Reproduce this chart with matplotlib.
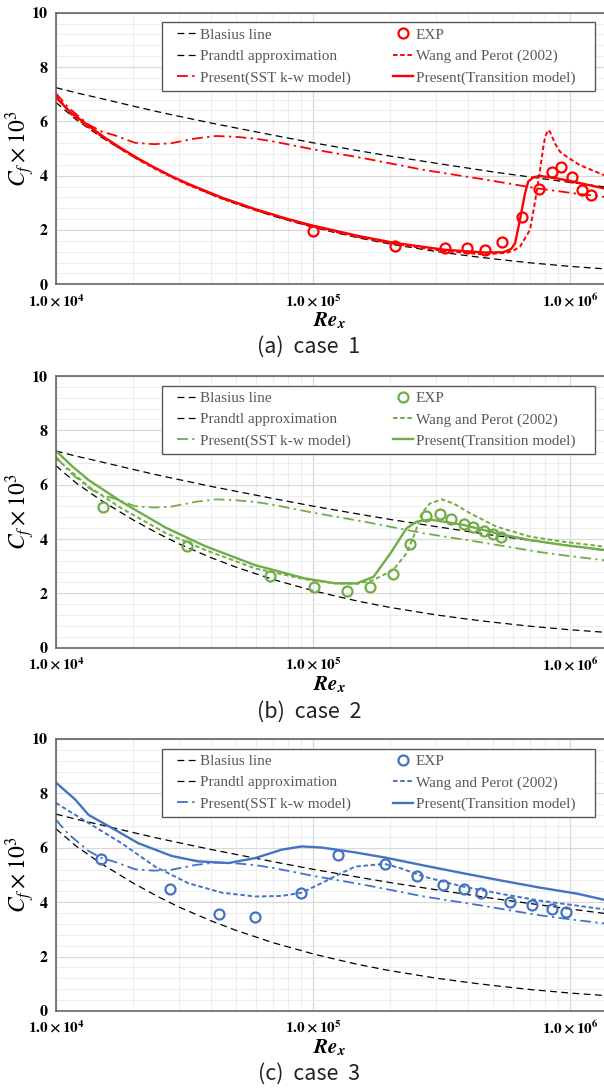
import matplotlib
matplotlib.use("Agg")
import matplotlib.pyplot as plt
from matplotlib.patches import Rectangle
from matplotlib.ticker import LogLocator, MultipleLocator, FixedLocator, NullFormatter

plt.rcParams['mathtext.fontset'] = 'stix'

# ---------------- data ----------------
theory_re = [1.0e4, 1.2e4, 1.5e4, 2.0e4, 2.5e4, 3.0e4, 4.0e4, 5.0e4, 7.0e4, 1.0e5, 1.2e5,
             1.5e5, 2.0e5, 3.0e5, 4.0e5, 5.0e5, 7.0e5, 1.0e6, 1.355e6]
blasius_cf = [6.70, 6.06, 5.42, 4.70, 4.20, 3.83, 3.32, 2.97, 2.51, 2.10, 1.92,
              1.71, 1.48, 1.21, 1.05, 0.94, 0.79, 0.66, 0.57]
prandtl_cf = [7.24, 7.05, 6.84, 6.56, 6.35, 6.19, 5.94, 5.76, 5.49, 5.21, 5.08,
              4.92, 4.72, 4.46, 4.28, 4.14, 3.95, 3.75, 3.59]

sst_re = [1.0e4, 1.12e4, 1.34e4, 1.51e4, 1.7e4, 2.03e4, 2.4e4, 2.8e4, 3.5e4, 4.2e4,
          5.0e4, 6.0e4, 7.0e4, 1.0e5, 1.6e5, 2.7e5, 4.5e5, 7.6e5, 1.0e6, 1.355e6]
sst_cf = [7.03, 6.50, 5.88, 5.62, 5.48, 5.21, 5.16, 5.19, 5.37, 5.46,
          5.43, 5.36, 5.26, 4.97, 4.63, 4.21, 3.88, 3.52, 3.37, 3.22]

# case 1
exp1_re = [1.0e5, 2.09e5, 3.26e5, 3.96e5, 4.66e5, 5.45e5, 6.49e5, 7.59e5, 8.53e5,
           9.25e5, 1.02e6, 1.11e6, 1.21e6]
exp1_cf = [1.96, 1.41, 1.35, 1.32, 1.26, 1.56, 2.49, 3.50, 4.14, 4.33, 3.96, 3.47, 3.30]
wang1_re = [1.0e4, 1.15e4, 1.34e4, 1.55e4, 1.8e4, 2.1e4, 2.43e4, 2.8e4, 3.27e4, 4.4e4,
            5.95e4, 8.0e4, 1.0e5, 1.5e5, 2.09e5, 3.26e5, 4.6e5, 5.66e5, 6.01e5, 6.38e5,
            6.98e5, 7.29e5, 7.64e5, 7.87e5, 8.0e5, 8.22e5, 8.34e5, 8.51e5, 8.73e5,
            9.14e5, 9.7e5, 1.09e6, 1.355e6]
wang1_cf = [6.95, 6.25, 5.78, 5.36, 4.96, 4.58, 4.25, 3.96, 3.66, 3.16,
            2.74, 2.37, 2.12, 1.74, 1.48, 1.22, 1.10, 1.16, 1.24, 1.38,
            2.00, 2.98, 4.21, 5.06, 5.44, 5.68, 5.62, 5.44, 5.19,
            4.88, 4.70, 4.39, 4.02]
trans1_re = [1.0e4, 1.15e4, 1.34e4, 1.55e4, 1.8e4, 2.1e4, 2.43e4, 2.8e4, 3.27e4, 4.4e4,
             5.95e4, 8.0e4, 1.0e5, 1.5e5, 2.09e5, 3.26e5, 4.66e5, 5.5e5, 5.9e5, 6.11e5,
             6.38e5, 6.68e5, 6.87e5, 7.19e5, 7.64e5, 8.87e5, 1.03e6, 1.355e6]
trans1_cf = [6.88, 6.30, 5.84, 5.40, 5.00, 4.62, 4.29, 3.99, 3.70, 3.20,
             2.77, 2.40, 2.16, 1.78, 1.52, 1.27, 1.17, 1.18, 1.30, 1.51,
             2.37, 3.35, 3.78, 3.94, 3.99, 3.90, 3.78, 3.53]

# case 2
exp2_re = [1.52e4, 3.24e4, 6.81e4, 1.01e5, 1.36e5, 1.67e5, 2.05e5, 2.38e5, 2.74e5,
           3.12e5, 3.45e5, 3.85e5, 4.18e5, 4.62e5, 5.0e5, 5.37e5]
exp2_cf = [5.19, 3.74, 2.64, 2.25, 2.10, 2.22, 2.70, 3.82, 4.86,
           4.91, 4.74, 4.56, 4.44, 4.31, 4.20, 4.06]
wang2_re = [1.0e4, 1.34e4, 1.8e4, 2.66e4, 3.8e4, 5.95e4, 9.3e4, 1.22e5, 1.48e5, 1.72e5,
            2.05e5, 2.31e5, 2.49e5, 2.65e5, 2.85e5, 3.17e5, 3.52e5, 4.08e5, 5.18e5,
            6.98e5, 9.42e5, 1.355e6]
wang2_cf = [6.97, 5.93, 5.13, 4.23, 3.60, 2.92, 2.52, 2.37, 2.35, 2.49,
            2.86, 3.47, 4.21, 4.95, 5.31, 5.46, 5.31, 4.95, 4.45,
            4.09, 3.90, 3.72]
trans2_re = [1.0e4, 1.15e4, 1.34e4, 1.8e4, 2.66e4, 3.8e4, 5.95e4, 9.3e4, 1.22e5, 1.48e5,
             1.72e5, 2.0e5, 2.31e5, 2.53e5, 2.85e5, 3.85e5, 5.18e5, 6.98e5, 9.42e5, 1.355e6]
trans2_cf = [7.25, 6.70, 6.17, 5.37, 4.43, 3.74, 3.04, 2.55, 2.37, 2.37,
             2.61, 3.47, 4.39, 4.64, 4.72, 4.52, 4.21, 3.96, 3.78, 3.60]

# case 3
exp3_re = [1.5e4, 2.77e4, 4.3e4, 5.93e4, 8.98e4, 1.25e5, 1.9e5, 2.53e5, 3.21e5,
           3.85e5, 4.52e5, 5.86e5, 7.13e5, 8.47e5, 9.66e5]
exp3_cf = [5.60, 4.50, 3.56, 3.45, 4.32, 5.75, 5.41, 4.98, 4.63,
           4.47, 4.33, 4.00, 3.90, 3.75, 3.63]
wang3_re = [1.0e4, 1.34e4, 1.8e4, 2.43e4, 3.27e4, 4.42e4, 5.95e4, 7.55e4, 9.03e4,
            1.08e5, 1.25e5, 1.46e5, 1.9e5, 2.19e5, 2.7e5, 3.81e5, 5.37e5, 7.59e5, 1.355e6]
wang3_cf = [7.65, 6.91, 6.17, 5.31, 4.70, 4.35, 4.21, 4.23, 4.35,
            4.70, 5.01, 5.31, 5.41, 5.25, 4.94, 4.58, 4.31, 4.06, 3.74]
trans3_re = [1.0e4, 1.19e4, 1.34e4, 1.7e4, 2.09e4, 2.82e4, 3.58e4, 4.69e4, 5.95e4, 7.55e4,
             9.03e4, 1.08e5, 1.46e5, 1.91e5, 2.7e5, 3.81e5, 5.37e5, 7.59e5, 1.07e6, 1.355e6]
trans3_cf = [8.40, 7.77, 7.21, 6.66, 6.17, 5.70, 5.50, 5.44, 5.62, 5.93,
             6.05, 6.01, 5.83, 5.64, 5.35, 5.07, 4.80, 4.54, 4.31, 4.09]

cases = [
    dict(exp=(exp1_re, exp1_cf), wang=(wang1_re, wang1_cf), trans=(trans1_re, trans1_cf)),
    dict(exp=(exp2_re, exp2_cf), wang=(wang2_re, wang2_cf), trans=(trans2_re, trans2_cf)),
    dict(exp=(exp3_re, exp3_cf), wang=(wang3_re, wang3_cf), trans=(trans3_re, trans3_cf)),
]
case_labels = ['(a)  case  1', '(b)  case  2', '(c)  case  3']
case_colors = ['#ff0000', '#70ad47', '#4472c4']
x_ticks = [1e4, 1e5, 1e6]
x_tick_labels = [r'$\mathbf{1.0\times10^{4}}$', r'$\mathbf{1.0\times10^{5}}$', r'$\mathbf{1.0\times10^{6}}$']
y_ticks = [0, 2, 4, 6, 8, 10]
legend_labels = ['Blasius line', 'Prandtl approximation', 'Present(SST k-w model)',
                 'EXP', 'Wang and Perot (2002)', 'Present(Transition model)']

# ---------------- layout ----------------
W, H = 604, 1090
fig = plt.figure(figsize=(W / 100, H / 100), dpi=100)
ax_left, ax_right = 55.9, 604.0
tops = [12.7, 376.0, 739.0]
bottoms = [284.3, 647.7, 1011.0]
cap_y = [347, 711.5, 1074]
ph = bottoms[0] - tops[0]
pw = ax_right - ax_left

for i, case in enumerate(cases):
    col = case_colors[i]
    top, bot = tops[i], bottoms[i]
    ax = fig.add_axes([ax_left / W, 1 - bot / H, pw / W, (bot - top) / H])
    ax.set_xscale('log')
    ax.set_xlim(1e4, 1.355e6)
    ax.set_ylim(0, 10)
    ax.xaxis.set_major_locator(FixedLocator(x_ticks))
    ax.xaxis.set_minor_locator(LogLocator(base=10, subs=range(2, 10)))
    ax.xaxis.set_minor_formatter(NullFormatter())
    ax.set_xticklabels(x_tick_labels, fontsize=11)
    ax.yaxis.set_major_locator(FixedLocator(y_ticks))
    ax.yaxis.set_minor_locator(MultipleLocator(0.4))
    ax.set_yticklabels([str(v) for v in y_ticks], fontfamily='STIXGeneral',
                       fontweight='bold', fontsize=11.5)
    ax.grid(which='major', color='#d9d9d9', lw=0.9)
    ax.grid(which='minor', color='#ededed', lw=0.8)
    ax.set_axisbelow(True)
    ax.tick_params(which='both', length=0)
    ax.tick_params(axis='y', pad=6)
    ax.tick_params(axis='x', pad=6)
    for s in ['left', 'bottom', 'top']:
        ax.spines[s].set_color('#595959')
        ax.spines[s].set_linewidth(1.1)
    ax.spines['right'].set_visible(False)

    h_bl, = ax.plot(theory_re, blasius_cf, color='black', lw=0.9, ls=(0, (5.5, 3.5)))
    h_pr, = ax.plot(theory_re, prandtl_cf, color='black', lw=0.9, ls=(0, (5.5, 3.5)))
    h_sst, = ax.plot(sst_re, sst_cf, color=col, lw=1.3, ls=(0, (6, 2.4, 1.3, 2.4)))
    h_w, = ax.plot(*case['wang'], color=col, lw=1.4, ls=(0, (2.3, 1.4)))
    h_t, = ax.plot(*case['trans'], color=col, lw=1.7, ls='-')
    h_e, = ax.plot(*case['exp'], ls='none', marker='o', ms=7.2, mfc='none', mec=col, mew=1.6)

    # legend box
    bx0 = (161.7 - ax_left) / pw
    bx1 = (595.0 - ax_left) / pw
    by1 = 1 - (22.3 - tops[0]) / ph
    by0 = 1 - (91.0 - tops[0]) / ph
    ax.add_patch(Rectangle((bx0, by0), bx1 - bx0, by1 - by0, transform=ax.transAxes,
                           facecolor='white', edgecolor='#595959', lw=1.0, zorder=5))
    lx0 = (177.0 - ax_left) / pw
    lx1 = (575.0 - ax_left) / pw
    ly = 1 - (28.0 - tops[0]) / ph
    leg = ax.legend([h_bl, h_pr, h_sst, h_e, h_w, h_t], legend_labels, ncol=2,
                    loc='upper left', bbox_to_anchor=(lx0, ly, lx1 - lx0, 0.0),
                    mode='expand', frameon=False, borderpad=0, borderaxespad=0,
                    prop={'family': 'Liberation Serif', 'size': 11},
                    handlelength=1.35, handletextpad=0.15, labelspacing=0.5)
    leg.set_zorder(6)
    for t in leg.get_texts():
        t.set_color('#595959')

    # axis labels
    ax.text(-(ax_left - 20) / pw, 0.5, r'$C_f\times10^3$', transform=ax.transAxes,
            rotation=90, ha='center', va='center', fontsize=17)
    ax.text(0.5, -(321 - 284.3) / ph, r'$\mathbfit{Re}_{\mathbfit{x}}$', transform=ax.transAxes,
            ha='center', va='center', fontsize=15)

    fig.text(309 / W, 1 - cap_y[i] / H, case_labels[i], ha='center', va='center',
             fontsize=15.5, family='Noto Sans CJK KR', color='#222222')

fig.savefig('out.png', dpi=100)
